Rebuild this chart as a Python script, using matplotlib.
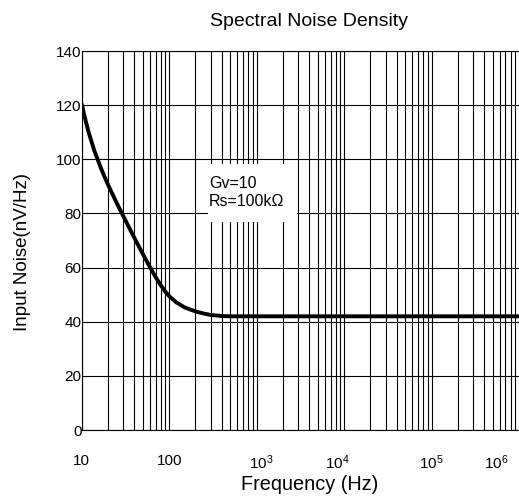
import matplotlib
matplotlib.use("Agg")
import matplotlib.pyplot as plt
from matplotlib.patches import Rectangle

plt.rcParams['font.family'] = ['Liberation Sans', 'DejaVu Sans']
plt.rcParams['mathtext.fontset'] = 'custom'
plt.rcParams['mathtext.rm'] = 'Liberation Sans'
plt.rcParams['mathtext.it'] = 'Liberation Sans:italic'

# curve
freq = [10, 11, 12, 14, 17, 20, 25, 30, 40, 50, 60, 70, 80, 90, 100, 120,
        150, 200, 250, 300, 400, 500, 1e6]
noise = [120.5, 114.7, 110, 103, 95.9, 90.6, 84, 78.9, 71, 65, 60.3, 56.5,
         53.5, 51.2, 49.45, 47.2, 45.3, 43.8, 43, 42.5, 42.1, 42, 42]

xtick_pos = [10, 100, 10**3.05, 10**3.92, 1e5, 10**5.74]
xtick_lab = ['10', '100', r'$\mathrm{10^3}$', r'$\mathrm{10^4}$', r'$\mathrm{10^5}$',
             r'$\mathrm{10^6}$']
ytick_pos = [0, 20, 40, 60, 80, 100, 120, 140]

fig = plt.figure(figsize=(5.19, 5.0), dpi=100)
ax = fig.add_axes([0.1574, 0.14, 0.8426, 0.758])

ax.set_xscale('log')
ax.set_xlim(10, 1e6)
ax.set_ylim(0, 140)

ax.plot(freq, noise, color='black', lw=2.8, solid_joinstyle='round',
        solid_capstyle='butt', zorder=3)

ax.set_xticks(xtick_pos)
ax.set_xticklabels(xtick_lab, fontsize=11)
ax.set_xticks([], minor=True)
ax.set_yticks(ytick_pos)
ax.set_yticklabels([str(v) for v in ytick_pos], fontsize=11)
ax.tick_params(axis='both', length=0)
ax.tick_params(axis='x', pad=17)
ax.tick_params(axis='y', pad=0)

# grid lines
for d in range(1, 6):
    for k in range(1, 10):
        ax.axvline(k * 10**d, color='black', lw=0.8, zorder=1)
for v in ytick_pos:
    ax.axhline(v, color='black', lw=0.8, zorder=1)

ax.spines['right'].set_visible(False)

# white label box
ax.add_patch(Rectangle((208 / 519, 0.556), 89 / 519, 0.116, transform=fig.transFigure,
                       facecolor='white', edgecolor='none', zorder=2))
fig.text(209 / 519, 0.616, 'Gv=10\nRs=100k\u03a9', fontsize=11.5,
         va='center', ha='left', linespacing=1.25, zorder=4)

fig.text(309.5 / 519, 0.958, 'Spectral Noise Density', ha='center', va='center',
         fontsize=14)
fig.text(309.5 / 519, 0.03, 'Frequency (Hz)', ha='center', va='center', fontsize=14.3)
fig.text(23 / 519, 0.496, 'Input Noise(nV/Hz)', ha='center', va='center',
         rotation=90, fontsize=13.5)

fig.savefig('out.png', dpi=100)
